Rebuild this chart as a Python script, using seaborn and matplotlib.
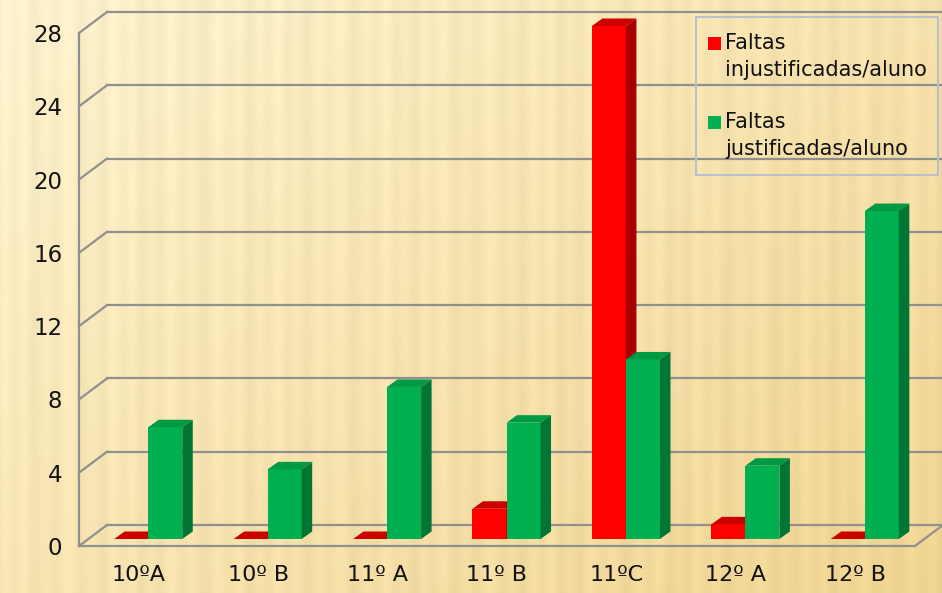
import numpy as np
import pandas as pd
import seaborn as sns
import matplotlib.pyplot as plt
from matplotlib.patches import Polygon, Rectangle

# ---------------- data ----------------
categories = ["10ºA", "10º B", "11º A", "11º B", "11ºC", "12º A", "12º B"]
injustificadas = [0, 0, 0, 1.65, 28, 0.8, 0]
justificadas = [6.1, 3.8, 8.3, 6.35, 9.8, 4.0, 17.9]
series = ["Faltas injustificadas/aluno", "Faltas justificadas/aluno"]
legend_labels = ["Faltas\ninjustificadas/aluno", "Faltas\njustificadas/aluno"]
yticks = [0, 4, 8, 12, 16, 20, 24, 28]

front_colors = ["#FF0000", "#00B050"]
top_colors = ["#CC0000", "#009A45"]
side_colors = ["#A80000", "#007534"]

df = pd.DataFrame({
    "Turma": categories * 2,
    "Série": [series[0]] * len(categories) + [series[1]] * len(categories),
    "Valor": injustificadas + justificadas,
})

plt.rcParams["font.family"] = ["DejaVu Sans"]

W, H = 942, 593
fig = plt.figure(figsize=(W / 100, H / 100), dpi=100)

# ---------------- background texture ----------------
bg = fig.add_axes([0, 0, 1, 1], zorder=-5)
xx = np.arange(W)[None, :]
yy = np.arange(H)[:, None]
t = np.clip(0.55 * xx / W + 0.45 * yy / H, 0, 1)
c0 = np.array([253, 242, 206]) / 255.0
c1 = np.array([240, 212, 145]) / 255.0
stripes = (0.5 * np.sin(2 * np.pi * xx / 21.0 + 0.9 * np.sin(2 * np.pi * xx / 137.0))
           + 0.3 * np.sin(2 * np.pi * xx / 53.0 + 0.4 * np.sin(2 * np.pi * yy / 300.0)))
img = c0[None, None, :] * (1 - t[..., None]) + c1[None, None, :] * t[..., None]
img = img + 0.025 * stripes[..., None]
img = np.clip(img, 0, 1)
bg.imshow(np.broadcast_to(img, (H, W, 3)), aspect="auto", extent=[0, 1, 0, 1])
bg.set_axis_off()

# ---------------- main axes (front plane) ----------------
left_px, right_px, top_px, bot_px = 79, 915, 33, 546
ax = fig.add_axes([left_px / W, 1 - bot_px / H, (right_px - left_px) / W, (bot_px - top_px) / H])
ax.patch.set_alpha(0)

sns.barplot(data=df, x="Turma", y="Valor", hue="Série", order=categories,
            hue_order=series, palette=front_colors, width=0.57, saturation=1,
            edgecolor="none", linewidth=0, legend=False, ax=ax)

ax.set_xlim(-0.5, len(categories) - 0.5)
ax.set_ylim(0, 28)
ax.set_xlabel("")
ax.set_ylabel("")
for s in ax.spines.values():
    s.set_visible(False)
ax.grid(False)
ax.set_yticks(yticks)
ax.set_yticklabels([str(v) for v in yticks])
ax.tick_params(axis="y", length=0, pad=12, labelsize=16.5, labelcolor="#111111")
ax.tick_params(axis="x", length=0, pad=14, labelsize=16, labelcolor="#111111")

# pixel -> data unit conversions
pxx = (right_px - left_px) / len(categories)
pxy = (bot_px - top_px) / 28.0

# ---------------- walls / grid ----------------
wdx, wdy = 28 / pxx, 21 / pxy
gcol, glw = "#909090", 1.6
x0, x1 = -0.5, len(categories) - 0.5
for v in yticks:
    ax.plot([x0 + wdx, x1 + wdx], [v + wdy, v + wdy], color=gcol, lw=glw, clip_on=False, zorder=1)
    ax.plot([x0, x0 + wdx], [v, v + wdy], color=gcol, lw=glw, clip_on=False, zorder=1)
ax.plot([x0, x0], [0, 28], color=gcol, lw=glw, clip_on=False, zorder=1)
ax.plot([x0, x1], [0, 0], color=gcol, lw=glw, clip_on=False, zorder=1)
ax.plot([x1, x1 + wdx], [0, wdy], color=gcol, lw=glw, clip_on=False, zorder=1)

# ---------------- 3D look for bars ----------------
bdx, bdy = 9.5 / pxx, 7 / pxy      # bar plane offset
ddx, ddy = 10.5 / pxx, 7.5 / pxy   # bar depth
bars = list(ax.patches)
n = len(categories)
for i, p in enumerate(bars):
    k = 0 if i < n else 1
    z = 3 + k
    p.set_x(p.get_x() + bdx)
    p.set_y(p.get_y() + bdy)
    p.set_zorder(z)
    p.set_clip_on(False)
    bx0 = p.get_x()
    bx1 = bx0 + p.get_width()
    by0 = p.get_y()
    by1 = by0 + p.get_height()
    top = Polygon([(bx0, by1), (bx1, by1), (bx1 + ddx, by1 + ddy), (bx0 + ddx, by1 + ddy)],
                  closed=True, facecolor=top_colors[k], edgecolor="none", zorder=z + 0.1,
                  clip_on=False)
    side = Polygon([(bx1, by0), (bx1 + ddx, by0 + ddy), (bx1 + ddx, by1 + ddy), (bx1, by1)],
                   closed=True, facecolor=side_colors[k], edgecolor="none", zorder=z + 0.1,
                   clip_on=False)
    ax.add_patch(top)
    ax.add_patch(side)

# ---------------- legend (drawn manually) ----------------
fig.patches.append(Rectangle((696 / W, 1 - 175 / H), (938 - 696) / W, (175 - 17) / H,
                             transform=fig.transFigure, facecolor="none",
                             edgecolor="#BCC0CA", lw=1.5, zorder=10))
sq = 13
for k, ycen in enumerate([43.5, 122.5]):
    fig.patches.append(Rectangle((708 / W, 1 - (ycen + sq / 2) / H), sq / W, sq / H,
                                 transform=fig.transFigure, facecolor=front_colors[k],
                                 edgecolor="none", zorder=10))
    fig.text(725 / W, 1 - (ycen - 10.5) / H, legend_labels[k], ha="left", va="top",
             fontsize=15, color="#111111", linespacing=1.45, zorder=10)

fig.savefig("out.png", dpi=100)
